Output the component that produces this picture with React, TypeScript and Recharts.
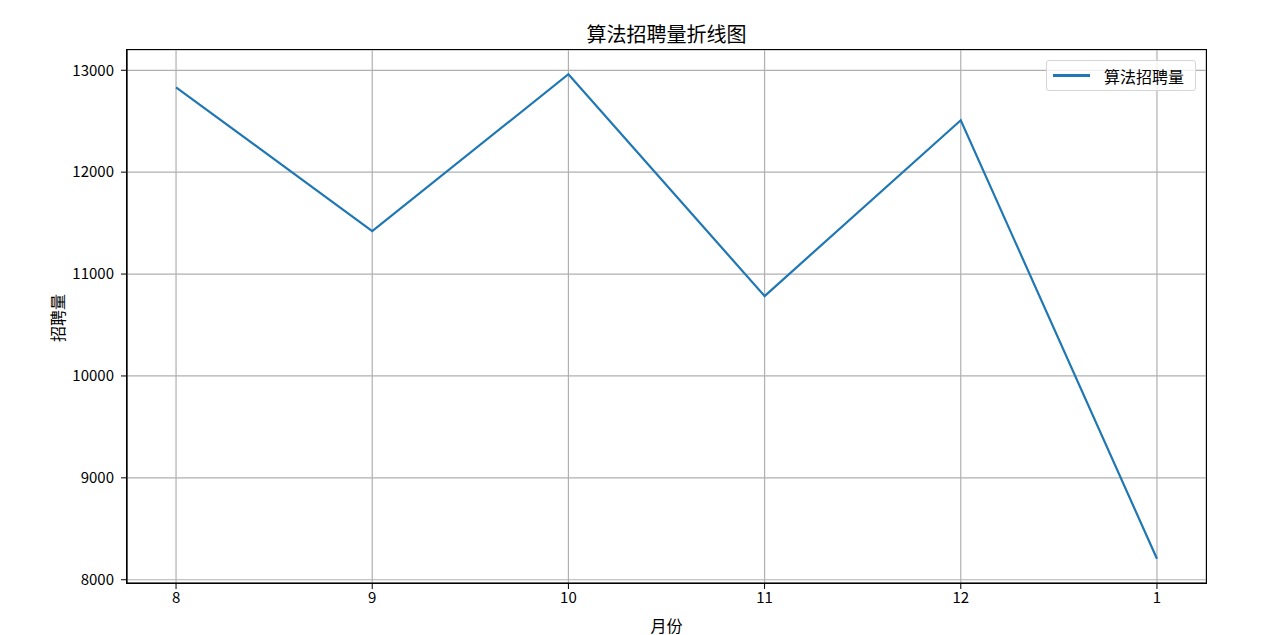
import React from "react";
import { LineChart, Line, XAxis, YAxis, CartesianGrid, Legend } from "recharts";

const months = ["8", "9", "10", "11", "12", "1"];
const hires = [12833, 11422, 12961, 10784, 12510, 8206];
const yTicks = [8000, 9000, 10000, 11000, 12000, 13000];

const data = months.map((m, i) => ({ idx: i, month: m, value: hires[i] }));

const FONT = '"Noto Sans CJK SC", "DejaVu Sans", sans-serif';

const LegendBox = () => (
  <div
    style={{
      position: "absolute",
      left: 1046,
      top: 60,
      width: 150,
      height: 31,
      boxSizing: "border-box",
      border: "1px solid #d5d5d5",
      borderRadius: 3,
      background: "rgba(255,255,255,0.8)",
      display: "flex",
      alignItems: "center",
      fontFamily: FONT,
      fontSize: 16,
      color: "#000",
    }}
  >
    <span style={{ display: "inline-block", width: 37, height: 2.2, background: "#1f77b4", marginLeft: 6, marginRight: 14 }} />
    <span>算法招聘量</span>
  </div>
);

export default function App() {
  return (
    <div style={{ position: "absolute", left: 0, top: 0, width: 1270, height: 635, background: "#fff", fontFamily: FONT }}>
      <div style={{ position: "absolute", left: 127, width: 1079, top: 19, textAlign: "center", fontSize: 20, color: "#000" }}>
        算法招聘量折线图
      </div>
      <div style={{ position: "absolute", left: 127, width: 1079, top: 613, textAlign: "center", fontSize: 16, color: "#000" }}>
        月份
      </div>
      <div
        style={{
          position: "absolute",
          left: 57,
          top: 318,
          transform: "translate(-50%, -50%) rotate(-90deg)",
          fontSize: 16,
          color: "#000",
          whiteSpace: "nowrap",
        }}
      >
        招聘量
      </div>
      <LineChart width={1270} height={635} data={data} margin={{ top: 50, right: 64, bottom: 0, left: 0 }}>
        <CartesianGrid stroke="#b0b0b0" strokeWidth={1.2} />
        <XAxis
          dataKey="idx"
          type="number"
          domain={[-0.25, 5.25]}
          ticks={[0, 1, 2, 3, 4, 5]}
          tickFormatter={(v: number) => months[v]}
          height={52}
          tickSize={6}
          tickMargin={3}
          allowDataOverflow
          axisLine={{ stroke: "#000", strokeWidth: 1.2 }}
          tickLine={{ stroke: "#000" }}
          tick={{ fill: "#000", fontSize: 15, fontFamily: FONT }}
        />
        <YAxis
          type="number"
          domain={[7968, 13199]}
          ticks={yTicks}
          width={127}
          tickSize={6}
          tickMargin={7}
          allowDataOverflow
          axisLine={{ stroke: "#000", strokeWidth: 1.2 }}
          tickLine={{ stroke: "#000" }}
          tick={{ fill: "#000", fontSize: 15, fontFamily: FONT }}
        />
        <Legend content={() => <LegendBox />} wrapperStyle={{ position: "absolute", left: 0, top: 0, width: 0, height: 0 }} />
        <Line type="linear" dataKey="value" name="算法招聘量" stroke="#1f77b4" strokeWidth={2.2} dot={false} isAnimationActive={false} />
      </LineChart>
      <div
        style={{
          position: "absolute",
          left: 126,
          top: 49,
          width: 1081,
          height: 535,
          boxSizing: "border-box",
          border: "1px solid #000",
          pointerEvents: "none",
        }}
      />
    </div>
  );
}
